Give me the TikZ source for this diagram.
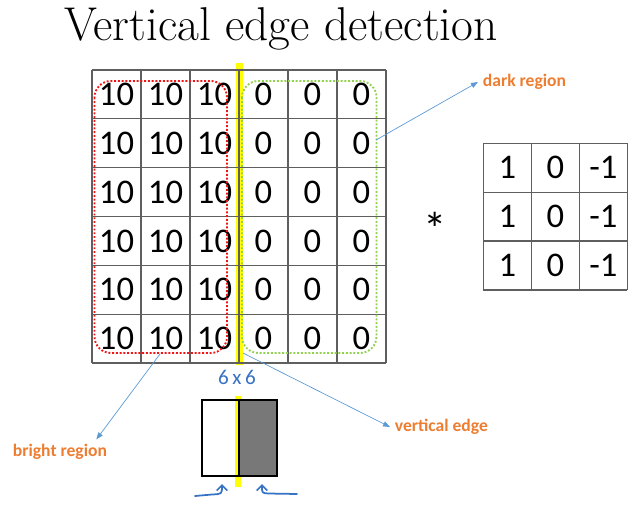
\documentclass[tikz,border=0pt]{standalone}
\usepackage{fontspec}
\newfontfamily\calibri{Carlito}
\usetikzlibrary{arrows.meta,calc}
\definecolor{gridgray}{RGB}{95,95,95}
\definecolor{hlyellow}{RGB}{255,255,0}
\definecolor{dotred}{RGB}{240,20,20}
\definecolor{dotgreen}{RGB}{146,208,80}
\definecolor{labelorange}{RGB}{237,125,49}
\definecolor{pointerblue}{RGB}{91,155,213}
\definecolor{inkblue}{RGB}{55,115,195}
\definecolor{darkfill}{RGB}{120,120,120}
\begin{document}
\begin{tikzpicture}[x=0.03cm,y=-0.03cm,
    cell/.style={font=\calibri\fontsize{29.5}{29.5}\selectfont, inner sep=0pt},
    gridline/.style={draw=gridgray, line width=1.1pt},
    tag/.style={font=\calibri\bfseries\fontsize{15}{15}\selectfont, text=labelorange, inner sep=4pt},
    pointer/.style={draw=pointerblue, line width=0.6pt, -{Triangle[length=6pt,width=4.5pt]}},
    ink/.style={draw=inkblue, line width=1.5pt, line cap=round, line join=round}]
    \useasboundingbox (0,0) rectangle (642,506);

    \node[font=\fontsize{40.5}{44}\selectfont, anchor=base] (title) at (281,41) {Vertical edge detection};

    % the 6x6 image and its edge
    \fill[hlyellow] (236,63) rectangle (242.5,365);
    \foreach \i in {0,...,6} {
        \draw[gridline] (92+49*\i,70) -- (92+49*\i,363);
        \draw[gridline] (92,70+48.83*\i) -- (386,70+48.83*\i);
    }
    \foreach \r in {1,...,6} {
        \foreach \c in {1,2,3}
            \node[cell] (a\r\c) at (92+49*\c-24.5,70+48.83*\r-24.4) {10};
        \foreach \c in {4,5,6}
            \node[cell] (a\r\c) at (92+49*\c-24.5,70+48.83*\r-24.4) {0};
    }
    \draw[dotred, line width=1.6pt, dash pattern=on 1.6pt off 1.6pt, rounded corners=14pt] (94.5,81) rectangle (227,353);
    \draw[dotgreen, line width=1.6pt, dash pattern=on 1.6pt off 1.6pt, rounded corners=14pt] (242,81) rectangle (376.5,353);
    \node[font=\calibri\fontsize{18}{18}\selectfont, text=inkblue] (size) at (237,377) {6\,x\,6};

    % the 3x3 filter
    \node[font=\calibri\fontsize{40}{40}\selectfont, inner sep=0pt] (conv) at (435,229) {*};
    \foreach \i in {0,...,3} {
        \draw[gridline] (483.3+48*\i,143.3) -- (483.3+48*\i,290);
        \draw[gridline] (483.3,143.3+48.9*\i) -- (627.3,143.3+48.9*\i);
    }
    \foreach \r in {1,2,3} {
        \node[cell] (k\r1) at (507.3,143.3+48.9*\r-24.45) {1};
        \node[cell] (k\r2) at (555.3,143.3+48.9*\r-24.45) {0};
        \node[cell] (k\r3) at (603.3,143.3+48.9*\r-24.45) {-1};
    }

    % labels
    \node[tag, anchor=west] (dark) at (478,82) {dark region};
    \node[tag, anchor=west] (vedge) at (390,427) {vertical edge};
    \node[tag, anchor=west] (bright) at (8,452) {bright region};
    \coordinate (darkfrom) at (376,140);
    \coordinate (brightfrom) at (160,354);
    \coordinate (vedgefrom) at (243,353);
    \draw[pointer] (darkfrom) -- (dark.west);
    \draw[pointer] (brightfrom) -- ($(bright.north)!0.7!(bright.north east)$);
    \draw[pointer] (vedgefrom) -- (vedge.west);

    % small sketch of the edge
    \fill[hlyellow] (235,396) rectangle (240.5,487);
    \fill[darkfill] (239.3,400) rectangle (277.3,476);
    \draw[line width=1.5pt] (201.7,400) rectangle (277.3,476);
    \draw[line width=1.5pt] (239.3,400) -- (239.3,476);
    \draw[ink, -{Straight Barb[length=4.5pt,width=9pt]}] (195,496) -- (212,494.5) .. controls (222,494) .. (222,484);
    \draw[ink, -{Straight Barb[length=4.5pt,width=9pt]}] (297,494) -- (268,493.5) .. controls (262,493) .. (262,484);
\end{tikzpicture}
\end{document}
